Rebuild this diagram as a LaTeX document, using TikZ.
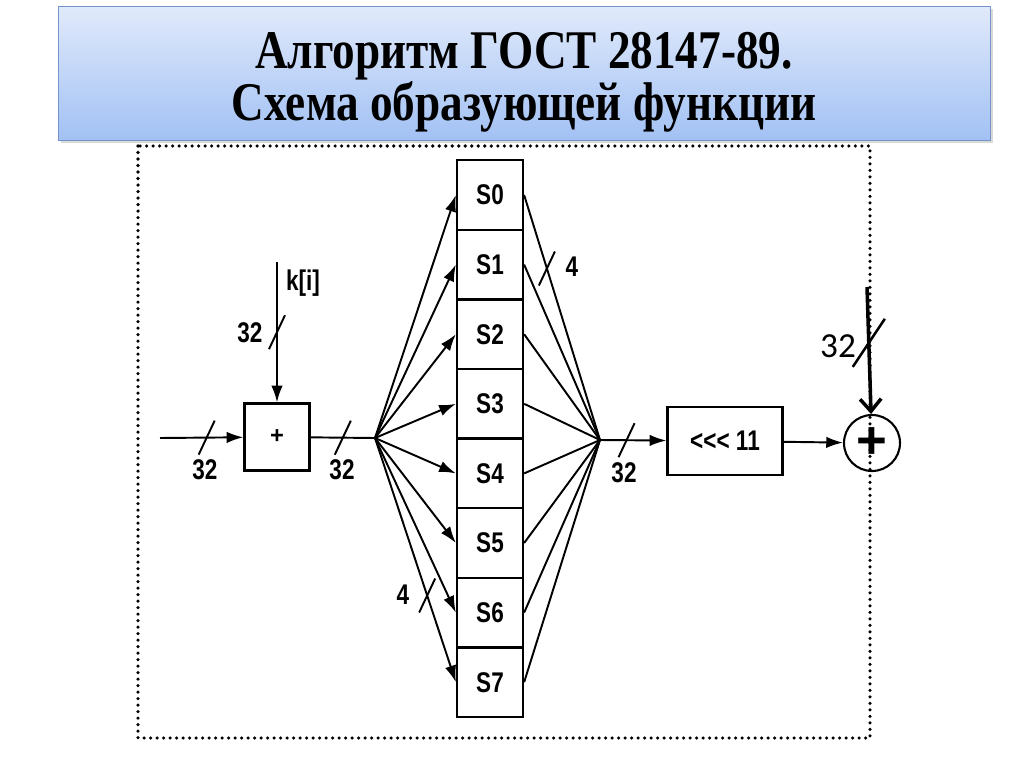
\documentclass[tikz,border=0pt]{standalone}
\usepackage{fontspec}
\setmainfont{Liberation Serif}
\setsansfont{Liberation Sans}
\newfontfamily\calibrifont{Carlito}
\usetikzlibrary{arrows.meta,shadows}

\definecolor{titletop}{RGB}{225,234,251}
\definecolor{titlebottom}{RGB}{162,193,244}
\definecolor{titleedge}{RGB}{118,148,204}

% slash across a bus line
\newcommand{\busmark}[1]{\draw[busline] (#1) +(-8,17) -- +(8,-17);}
% scanned labels are a little taller than wide
\newcommand{\lbl}[1]{\scalebox{0.95}[1.2]{#1}}

\begin{document}
\begin{tikzpicture}[
    x=0.02cm, y=-0.02cm,
    every node/.style={font=\sffamily\bfseries\fontsize{13.5}{15}\selectfont},
    titlebox/.style={draw=titleedge, top color=titletop, bottom color=titlebottom,
        minimum width=186.4mm, minimum height=26.8mm,
        drop shadow={shadow xshift=1.5pt, shadow yshift=-1.5pt, opacity=0.3}},
    titletext/.style={align=center, font=\rmfamily\bfseries\fontsize{31}{29.5}\selectfont},
    block/.style={draw, line width=1.3pt, inner sep=0pt},
    addbox/.style={block, minimum width=13mm, minimum height=13.4mm},
    sbox/.style={block, minimum width=13.2mm, minimum height=13.92mm},
    rotbox/.style={block, minimum width=23mm, minimum height=13.6mm},
    xorc/.style={circle, draw, line width=1.2pt, minimum size=11.2mm, inner sep=0pt,
        font=\sffamily\bfseries\fontsize{30}{30}\selectfont},
    wire/.style={line width=1.1pt},
    arrow/.style={wire, -{Latex[length=9.5pt,width=6.5pt]}},
    busline/.style={line width=1.1pt},
    dotframe/.style={line width=2pt, line cap=round, dash pattern=on 0pt off 3.7pt}
]
\useasboundingbox (0,0) rectangle (1024,767);

% Title
\node[titlebox] (title) at (524,73) {};
\node[titletext] (titletxt) at (524,82)
    {\scalebox{0.83}[1]{Алгоритм ГОСТ 28147-89.}\\\scalebox{0.83}[1]{Схема образующей функции}};

% Frame
\draw[dotframe] (138,146) rectangle (870,738);

% Adder with the round key
\coordinate (xin) at (160,438);
\coordinate (kin) at (277,262);
\node[addbox] (add) at (277,437) {+};
\draw[arrow] (xin) -- coordinate[pos=0.56] (t1) (add);
\draw[arrow] (kin) -- coordinate[pos=0.5] (t2) (add);
\node (k) at (303,283) {\lbl{k[i]}};
\node (l1) at (205,470) {\lbl{32}};
\node (l2) at (250,333) {\lbl{32}};
\busmark{t1}
\busmark{t2}

% S-boxes
\foreach \i in {0,...,7}{
    \node[sbox] (S\i) at (490, 195+69.6*\i) {\lbl{S\i}};
}

\coordinate (fanL) at (375,438);
\coordinate (fanR) at (600,440);
\draw[wire] (add) -- coordinate[pos=0.5] (t3) (fanL);
\node (l3) at (342,470) {\lbl{32}};
\busmark{t3}

% Fan-out to the S-boxes
\foreach \i in {0,...,7}{
    \draw[arrow] (fanL) -- (S\i.west);
}
% Fan-in from the S-boxes
\foreach \i in {0,...,7}{
    \draw[wire] (S\i.east) -- (fanR);
}
\path (fanL) -- coordinate[pos=0.645] (t4) (S7.west);
\path (S0.east) -- coordinate[pos=0.3] (t5) (fanR);
\busmark{t4}
\busmark{t5}
\node (l4) at (403,595) {\lbl{4}};
\node (l5) at (572,267) {\lbl{4}};

% Rotation
\node[rotbox] (rot) at (725,441) {\lbl{<{}<{}< 11}};
\draw[arrow] (fanR) -- coordinate[pos=0.4] (t6) (rot);
\node (l6) at (624,473) {\lbl{32}};
\busmark{t6}

% Sum with the other half
\node[xorc] (xor) at (872,443) {+};
\coordinate (rin) at (867,287);
\draw[arrow] (rot) -- (xor);
\draw[line width=2pt, -{Straight Barb[length=7pt,width=12pt]}] (rin) -- coordinate[pos=0.44] (t7) (xor);
\draw[busline, line width=1.4pt] (t7) +(-16,24) -- +(16,-24);
\node[font=\calibrifont\fontsize{20}{20}\selectfont] (l7) at (838,346) {32};

\end{tikzpicture}
\end{document}
